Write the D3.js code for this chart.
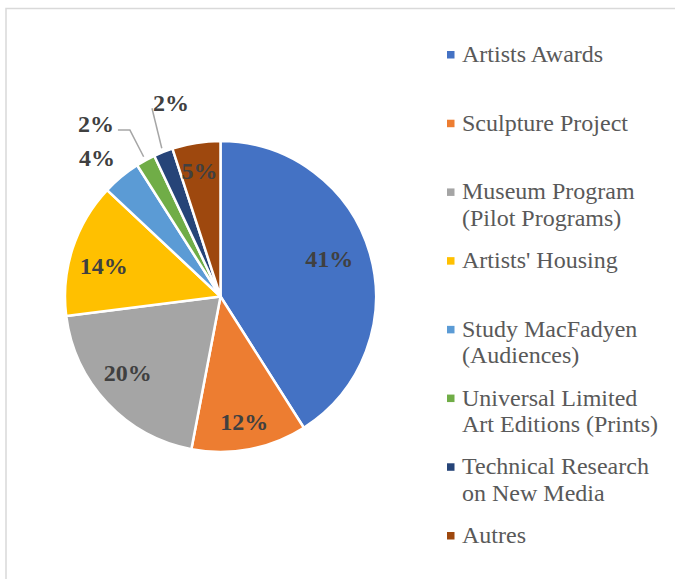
<!DOCTYPE html>
<meta charset="utf-8">
<html>
<body style="margin:0;background:#fff">
<script src="https://cdn.jsdelivr.net/npm/d3@7"></script>
<script>
  // chart data
  var categories = ["Artists Awards", "Sculpture Project", "Museum Program\n(Pilot Programs)",
    "Artists' Housing", "Study MacFadyen\n(Audiences)", "Universal Limited\nArt Editions (Prints)",
    "Technical Research\non New Media", "Autres"];
  var shares = [41, 12, 20, 14, 4, 2, 2, 5];
  var colors = ["#4472C4", "#ED7D31", "#A5A5A5", "#FFC000", "#5B9BD5", "#70AD47", "#264478", "#9E480E"];

  var W = 675, H = 579;
  var cx = 220.5, cy = 296.5, R = 155.5;
  var font = "'Liberation Serif', 'Times New Roman', serif";

  var svg = d3.select("body").append("svg")
    .attr("width", W).attr("height", H);

  // chart area border (runs off right and bottom)
  svg.append("rect")
    .attr("x", 6).attr("y", 8.5)
    .attr("width", 720).attr("height", 620)
    .attr("fill", "none").attr("stroke", "#d9d9d9").attr("stroke-width", 1.5);

  var pie = d3.pie().sort(null).value(function(d) { return d; });
  var arcs = pie(shares);
  var arc = d3.arc().innerRadius(0).outerRadius(R);

  var g = svg.append("g").attr("transform", "translate(" + cx + "," + cy + ")");

  g.selectAll("path.slice")
    .data(arcs)
    .enter().append("path")
      .attr("class", "slice")
      .attr("d", arc)
      .attr("fill", function(d, i) { return colors[i]; })
      .attr("stroke", "#fff")
      .attr("stroke-width", 2.5)
      .attr("stroke-linejoin", "round");

  // "best fit" label placement, as radius (px) and angle (deg clockwise from top)
  var place = [
    {r: 115, a: 71}, {r: 127, a: 169.2}, {r: 120, a: 230.6}, {r: 121, a: 285},
    {r: 185.5, a: 318.3}, {r: 213.5, a: 324.3}, {r: 200.5, a: 345.7}, {r: 128, a: 350.6}
  ];

  function polar(r, a) {
    var t = a * Math.PI / 180;
    return [r * Math.sin(t), -r * Math.cos(t)];
  }
  function midDeg(d) { return (d.startAngle + d.endAngle) / 2 * 180 / Math.PI; }

  var labelPos = place.map(function(p) { return polar(p.r, p.a); });

  // leader lines for the two 2% slices
  var leaders = [
    [[labelPos[5][0] + 22, labelPos[5][1] + 7], [labelPos[5][0] + 34, labelPos[5][1] + 7], polar(R + 4, midDeg(arcs[5]))],
    [[labelPos[6][0] - 19, labelPos[6][1] + 6], polar(R + 4, midDeg(arcs[6]))]
  ];
  g.selectAll("path.leader")
    .data(leaders)
    .enter().append("path")
      .attr("class", "leader")
      .attr("d", d3.line())
      .attr("fill", "none")
      .attr("stroke", "#a6a6a6")
      .attr("stroke-width", 1.5);

  g.selectAll("text.pct")
    .data(arcs)
    .enter().append("text")
      .attr("class", "pct")
      .attr("x", function(d, i) { return labelPos[i][0]; })
      .attr("y", function(d, i) { return labelPos[i][1]; })
      .attr("dy", "0.35em")
      .attr("text-anchor", "middle")
      .attr("font-family", font)
      .attr("font-weight", "bold")
      .attr("font-size", 24)
      .attr("fill", "#404040")
      .text(function(d) { return d.data + "%"; });

  // legend
  var ly = d3.scalePoint().domain(categories).range([62, 543]);
  var leg = svg.selectAll("g.legend")
    .data(categories)
    .enter().append("g")
      .attr("class", "legend")
      .attr("transform", function(d) { return "translate(447," + ly(d) + ")"; });

  leg.append("rect")
    .attr("x", 0).attr("y", -11)
    .attr("width", 7.5).attr("height", 7.5)
    .attr("fill", function(d, i) { return colors[i]; });

  leg.append("text")
    .attr("x", 15)
    .attr("font-family", font)
    .attr("font-size", 24)
    .attr("fill", "#595959")
    .selectAll("tspan")
    .data(function(d) { return d.split("\n"); })
    .enter().append("tspan")
      .attr("x", 15)
      .attr("dy", function(d, i) { return i ? 26.5 : 0; })
      .text(function(d) { return d; });
</script>
</body>
</html>
